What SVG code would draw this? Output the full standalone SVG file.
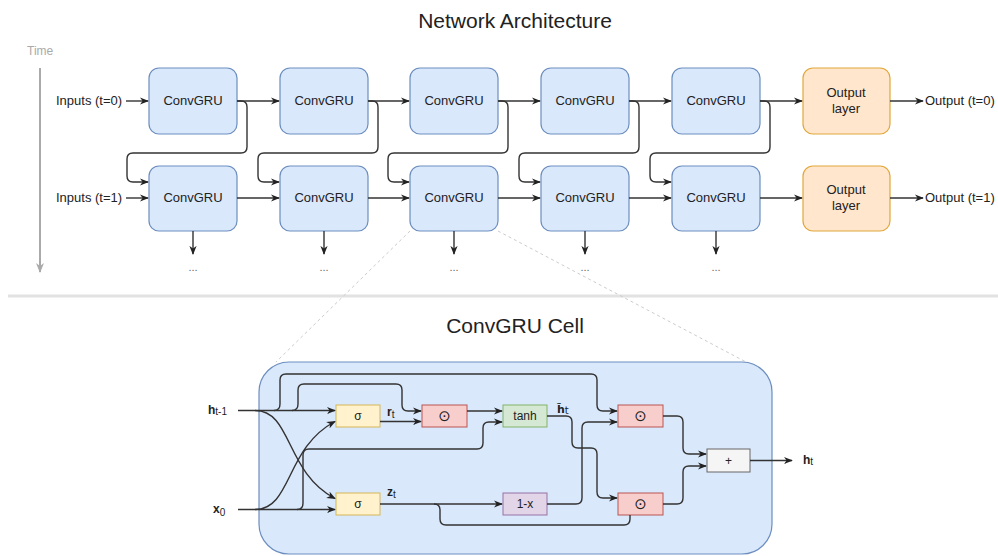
<svg xmlns="http://www.w3.org/2000/svg" width="998" height="556" viewBox="0 0 998 556">
<style>
text{font-family:"Liberation Sans",Arial,sans-serif;fill:#222}
.ttl{font-size:21px;text-anchor:middle}
.lbl{font-size:13px;text-anchor:middle}
.io{font-size:13px}
.gru{fill:#dae8fc;stroke:#6c8ebf;stroke-width:1.2}
.out{fill:#ffe6cc;stroke:#e0a83a;stroke-width:1.2}
.c{fill:none;stroke:#333;stroke-width:1.4}
.ca{fill:none;stroke:#333;stroke-width:1.4;marker-end:url(#a)}
.dots{font-size:11px;fill:#666;text-anchor:middle}
.sig{fill:#fff2cc;stroke:#d6b656}
.mul{fill:#f8cecc;stroke:#b85450}
.tanh{fill:#d5e8d4;stroke:#82b366}
.omx{fill:#e1d5e7;stroke:#9673a6}
.plus{fill:#f5f5f5;stroke:#666}
.sm{font-size:12px;text-anchor:middle}
.sym{font-family:"DejaVu Sans",sans-serif;font-size:15px;text-anchor:middle}
.var{font-size:12px;font-weight:bold}
.sub{font-size:10px;font-weight:normal}
</style>
<defs>
<marker id="a" viewBox="0 0 10 10" refX="9" refY="5" markerWidth="9" markerHeight="9" markerUnits="userSpaceOnUse" orient="auto"><path d="M0,1 L10,5 L0,9 L3,5 z" fill="#222"/></marker>
<marker id="g" viewBox="0 0 10 10" refX="9" refY="5" markerWidth="10" markerHeight="10" markerUnits="userSpaceOnUse" orient="auto"><path d="M0,1 L10,5 L0,9 L3,5 z" fill="#aaa"/></marker>
</defs>
<rect width="998" height="556" fill="#fff"/>
<text class="ttl" x="515" y="28">Network Architecture</text>
<text x="27" y="55" style="font-size:12px;fill:#aaa">Time</text>
<line x1="40" y1="68" x2="40" y2="272" stroke="#aaa" stroke-width="2" marker-end="url(#g)"/>
<line x1="8" y1="296" x2="998" y2="296" stroke="#e2e2e2" stroke-width="3"/>
<g id="dashes" stroke="#ccc" stroke-width="1" stroke-dasharray="3 3" fill="none">
<line x1="410" y1="231" x2="276" y2="362"/>
<line x1="498" y1="231" x2="746" y2="362"/>
</g>
<g id="net-nodes">
<g id="g00"><rect class="gru" x="149" y="68" width="88" height="66" rx="10"/><text class="lbl" x="193" y="105">ConvGRU</text></g>
<g id="g01"><rect class="gru" x="280" y="68" width="88" height="66" rx="10"/><text class="lbl" x="324" y="105">ConvGRU</text></g>
<g id="g02"><rect class="gru" x="410" y="68" width="88" height="66" rx="10"/><text class="lbl" x="454" y="105">ConvGRU</text></g>
<g id="g03"><rect class="gru" x="541" y="68" width="88" height="66" rx="10"/><text class="lbl" x="585" y="105">ConvGRU</text></g>
<g id="g04"><rect class="gru" x="672" y="68" width="88" height="66" rx="10"/><text class="lbl" x="716" y="105">ConvGRU</text></g>
<g id="o0"><rect class="out" x="803" y="68" width="87" height="66" rx="10"/><text class="lbl" x="846" y="97">Output</text><text class="lbl" x="846" y="113">layer</text></g>
<g id="g10"><rect class="gru" x="149" y="166" width="88" height="65" rx="10"/><text class="lbl" x="193" y="202">ConvGRU</text></g>
<g id="g11"><rect class="gru" x="280" y="166" width="88" height="65" rx="10"/><text class="lbl" x="324" y="202">ConvGRU</text></g>
<g id="g12"><rect class="gru" x="410" y="166" width="88" height="65" rx="10"/><text class="lbl" x="454" y="202">ConvGRU</text></g>
<g id="g13"><rect class="gru" x="541" y="166" width="88" height="65" rx="10"/><text class="lbl" x="585" y="202">ConvGRU</text></g>
<g id="g14"><rect class="gru" x="672" y="166" width="88" height="65" rx="10"/><text class="lbl" x="716" y="202">ConvGRU</text></g>
<g id="o1"><rect class="out" x="803" y="166" width="87" height="65" rx="10"/><text class="lbl" x="846" y="194">Output</text><text class="lbl" x="846" y="210">layer</text></g>
<g id="in0"><text class="io" x="56" y="105">Inputs (t=0)</text></g>
<g id="in1"><text class="io" x="56" y="202">Inputs (t=1)</text></g>
<g id="out0"><text class="io" x="925" y="105">Output (t=0)</text></g>
<g id="out1"><text class="io" x="925" y="202">Output (t=1)</text></g>
<g id="more">
<text class="dots" x="193" y="271">...</text><text class="dots" x="324" y="271">...</text><text class="dots" x="454" y="271">...</text><text class="dots" x="585" y="271">...</text><text class="dots" x="716" y="271">...</text>
</g>
</g>
<g id="net-connectors">
<path class="ca" d="M126,101 L148,101"/>
<path class="ca" d="M237,101 L279,101"/>
<path class="ca" d="M368,101 L409,101"/>
<path class="ca" d="M498,101 L540,101"/>
<path class="ca" d="M629,101 L671,101"/>
<path class="ca" d="M760,101 L802,101"/>
<path class="ca" d="M890,101 L923,101"/>
<path class="ca" d="M126,198 L148,198"/>
<path class="ca" d="M237,198 L279,198"/>
<path class="ca" d="M368,198 L409,198"/>
<path class="ca" d="M498,198 L540,198"/>
<path class="ca" d="M629,198 L671,198"/>
<path class="ca" d="M760,198 L802,198"/>
<path class="ca" d="M890,198 L923,198"/>
<path class="ca" d="M237,101 L241,101 Q247,101 247,107 L247,147 Q247,153 241,153 L133,153 Q127,153 127,159 L127,176 Q127,182 133,182 L148,182"/>
<path class="ca" d="M368,101 L372,101 Q378,101 378,107 L378,147 Q378,153 372,153 L264,153 Q258,153 258,159 L258,176 Q258,182 264,182 L279,182"/>
<path class="ca" d="M498,101 L502,101 Q508,101 508,107 L508,147 Q508,153 502,153 L394,153 Q388,153 388,159 L388,176 Q388,182 394,182 L409,182"/>
<path class="ca" d="M629,101 L633,101 Q639,101 639,107 L639,147 Q639,153 633,153 L525,153 Q519,153 519,159 L519,176 Q519,182 525,182 L540,182"/>
<path class="ca" d="M760,101 L764,101 Q770,101 770,107 L770,147 Q770,153 764,153 L656,153 Q650,153 650,159 L650,176 Q650,182 656,182 L671,182"/>
<path class="ca" d="M193,231 L193,254"/>
<path class="ca" d="M324,231 L324,254"/>
<path class="ca" d="M454,231 L454,254"/>
<path class="ca" d="M585,231 L585,254"/>
<path class="ca" d="M716,231 L716,254"/>
</g>
<text class="ttl" x="515" y="333">ConvGRU Cell</text>
<rect id="cell" x="259" y="362" width="513" height="192" rx="30" fill="#dae8fc" stroke="#6c8ebf" stroke-width="1.2"/>
<g id="cell-nodes">
<g id="hprev"><text class="var" x="208" y="414">h<tspan class="sub" dy="1">t-1</tspan></text></g>
<g id="x0"><text class="var" x="213" y="513">x<tspan class="sub" dy="3">0</tspan></text></g>
<g id="sig1"><rect class="sig" x="336" y="405" width="44" height="22"/><text class="sm" x="358" y="420">σ</text></g>
<g id="sig2"><rect class="sig" x="336" y="493" width="44" height="22"/><text class="sm" x="358" y="508">σ</text></g>
<g id="mul1"><rect class="mul" x="422" y="405" width="45" height="22"/><text class="sym" x="444.5" y="421">⊙</text></g>
<g id="tanh"><rect class="tanh" x="503" y="405" width="44" height="22"/><text class="sm" x="525" y="420">tanh</text></g>
<g id="omx"><rect class="omx" x="503" y="493" width="44" height="22"/><text class="sm" x="525" y="508">1-x</text></g>
<g id="mul2"><rect class="mul" x="618" y="405" width="45" height="22"/><text class="sym" x="640.5" y="421">⊙</text></g>
<g id="mul3"><rect class="mul" x="618" y="493" width="45" height="22"/><text class="sym" x="640.5" y="509">⊙</text></g>
<g id="plus"><rect class="plus" x="707" y="449" width="43" height="23"/><text class="sm" x="728.5" y="465">+</text></g>
<g id="ht"><text class="var" x="803" y="464">h<tspan class="sub" dy="1">t</tspan></text></g>
<g id="rt"><text class="var" x="387" y="416">r<tspan class="sub" dy="2">t</tspan></text></g>
<g id="zt"><text class="var" x="387" y="496">z<tspan class="sub" dy="2">t</tspan></text></g>
<g id="htil"><text class="var" x="557" y="413" style="font-family:'DejaVu Sans',sans-serif;font-size:11px">h̃<tspan class="sub" dy="1">t</tspan></text></g>
</g>
<g id="cell-connectors">
<path class="ca" d="M238,410.5 L335,410.5"/>
<path class="ca" d="M238,509.5 L335,509.5"/>
<path class="ca" d="M255,410.5 C292,410.5 285,472 335,498.5"/>
<path class="ca" d="M255,509.5 C292,509.5 285,448 335,421.5"/>
<path class="ca" d="M274,410.5 Q280,410.5 280,404 L280,380 Q280,374 286,374 L591,374 Q597,374 597,380 L597,405 Q597,411 603,411 L617,411"/>
<path class="ca" d="M292,410.5 Q298,410.5 298,404 L298,390 Q298,384 304,384 L396,384 Q402,384 402,390 L402,405 Q402,411 408,411 L421,411"/>
<path class="ca" d="M297,509.5 Q303,509.5 303,503 L303,455 Q303,449 309,449 L477,449 Q483,449 483,443 L483,428 Q483,422 489,422 L502,422"/>
<path class="ca" d="M380,421.5 L421,421.5"/>
<path class="ca" d="M467,411 L502,411"/>
<path class="ca" d="M547,416 L566,416 Q572,416 572,422 L572,442 Q572,448 578,448 L591,448 Q597,448 597,454 L597,492 Q597,498 603,498 L617,498"/>
<path class="ca" d="M380,504 L502,504"/>
<path class="c" d="M434,504 Q440,504 440,510 L440,519 Q440,525 446,525 L624,525 Q630,525 630,519 L630,515"/>
<path class="ca" d="M547,504 L576,504 Q582,504 582,498 L582,428 Q582,422 588,422 L617,422"/>
<path class="ca" d="M663,416 L677,416 Q683,416 683,422 L683,448 Q683,454 689,454 L706,454"/>
<path class="ca" d="M663,504 L677,504 Q683,504 683,498 L683,472 Q683,466 689,466 L706,466"/>
<path class="ca" d="M750,460.5 L792,460.5"/>
</g>
</svg>
